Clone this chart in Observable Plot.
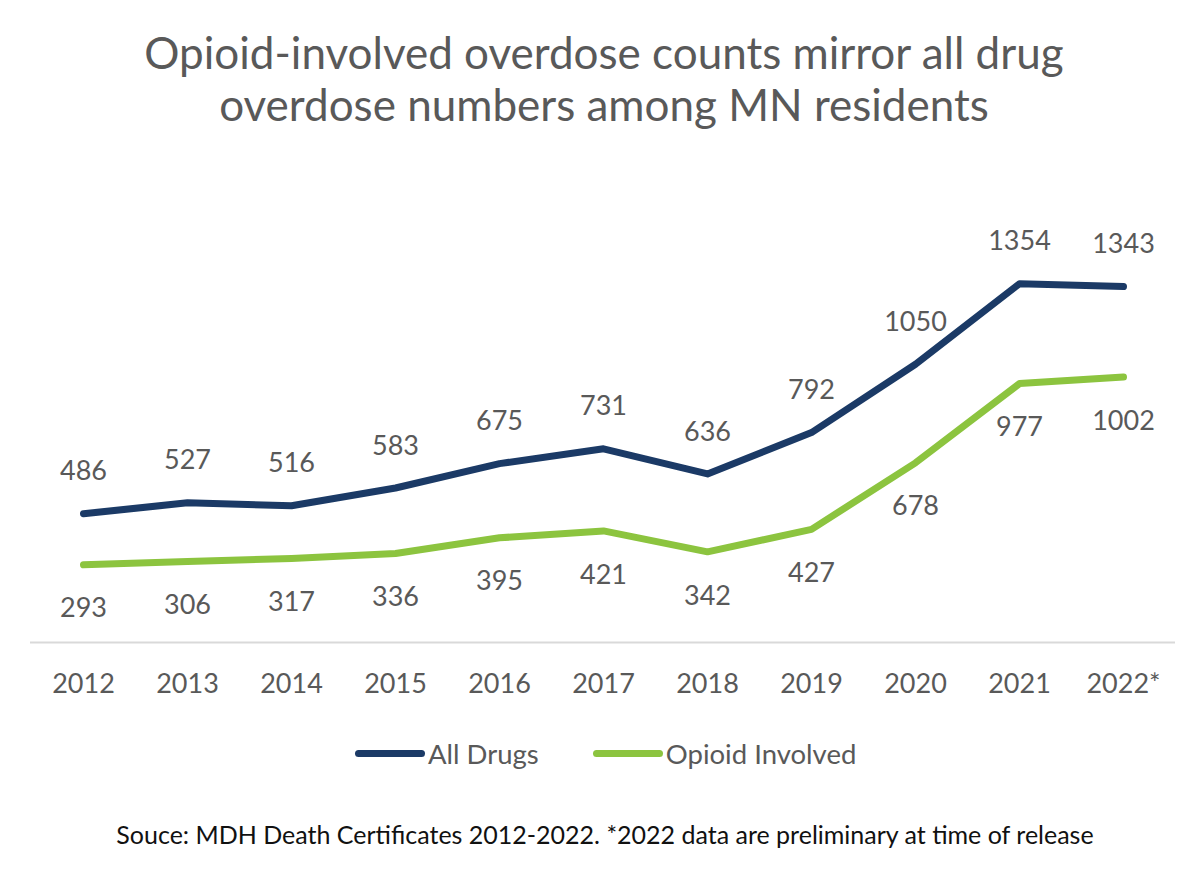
<!DOCTYPE html>
<html>
<head>
<meta charset="utf-8">
<script src="https://cdn.jsdelivr.net/npm/d3@7"></script>
<script src="https://cdn.jsdelivr.net/npm/@observablehq/plot@0.6"></script>
<style>
  html, body { margin: 0; padding: 0; background: #fff; }
  body { width: 1200px; height: 882px; position: relative; overflow: hidden; font-family: Lato, "Open Sans", sans-serif; }
  #title { position: absolute; top: 26px; left: 0; width: 1208px; text-align: center; color: #595959; font-size: 44px; line-height: 52px; }
  #chart { position: absolute; top: 170px; left: 0; }
  #legend { position: absolute; top: 737px; left: 355px; display: flex; align-items: center; color: #595959; font-size: 27.5px; }
  #legend .item { display: flex; align-items: center; }
  #legend .sw { width: 70px; height: 7px; border-radius: 4px; margin-right: 3px; }
  #caption { position: absolute; top: 819px; left: 0; width: 1210px; text-align: center; color: #111; font-size: 25px; }
</style>
</head>
<body>
<div id="title">Opioid-involved overdose counts mirror all drug<br>overdose numbers among MN residents</div>
<div id="chart"></div>
<div id="legend"></div>
<div id="caption">Souce: MDH Death Certificates 2012-2022. *2022 data are preliminary at time of release</div>
<script>
const years = ["2012","2013","2014","2015","2016","2017","2018","2019","2020","2021","2022*"];
const allDrugs = [486, 527, 516, 583, 675, 731, 636, 792, 1050, 1354, 1343];
const opioid = [293, 306, 317, 336, 395, 421, 342, 427, 678, 977, 1002];
const seriesNames = ["All Drugs", "Opioid Involved"];
const seriesColors = ["#1B3A66", "#8CC43F"];

const rows = [
  ...years.map((y, i) => ({year: y, value: allDrugs[i], series: seriesNames[0]})),
  ...years.map((y, i) => ({year: y, value: opioid[i], series: seriesNames[1]}))
];

const chart = Plot.plot({
  width: 1200,
  height: 540,
  marginTop: 48,
  marginBottom: 68,
  marginLeft: 30,
  marginRight: 25,
  style: {fontFamily: "Lato, 'Open Sans', sans-serif", fontSize: "27px", color: "#595959", background: "transparent"},
  x: {type: "point", domain: years, padding: 0.5, label: null},
  y: {domain: [0, 1600], axis: null},
  color: {domain: seriesNames, range: seriesColors},
  marks: [
    Plot.ruleY([0], {stroke: "#D9D9D9", strokeWidth: 2}),
    Plot.axisX({tickSize: 0, tickPadding: 31, fontSize: 27, fill: "#595959", label: null}),
    Plot.line(rows, {x: "year", y: "value", z: "series", stroke: "series", strokeWidth: 7, strokeLinecap: "round", strokeLinejoin: "round"}),
    Plot.text(rows.filter(d => d.series === seriesNames[0]), {x: "year", y: "value", text: d => String(d.value), dy: -42, fill: "#595959", fontSize: 27}),
    Plot.text(rows.filter(d => d.series === seriesNames[1]), {x: "year", y: "value", text: d => String(d.value), dy: 44, fill: "#595959", fontSize: 27})
  ]
});
document.getElementById("chart").appendChild(chart);

const legend = document.getElementById("legend");
seriesNames.forEach((name, i) => {
  const item = document.createElement("div");
  item.className = "item";
  if (i === 1) item.style.marginLeft = "54px";
  const sw = document.createElement("div");
  sw.className = "sw";
  sw.style.background = seriesColors[i];
  const label = document.createElement("span");
  label.textContent = name;
  item.appendChild(sw);
  item.appendChild(label);
  legend.appendChild(item);
});
</script>
</body>
</html>
